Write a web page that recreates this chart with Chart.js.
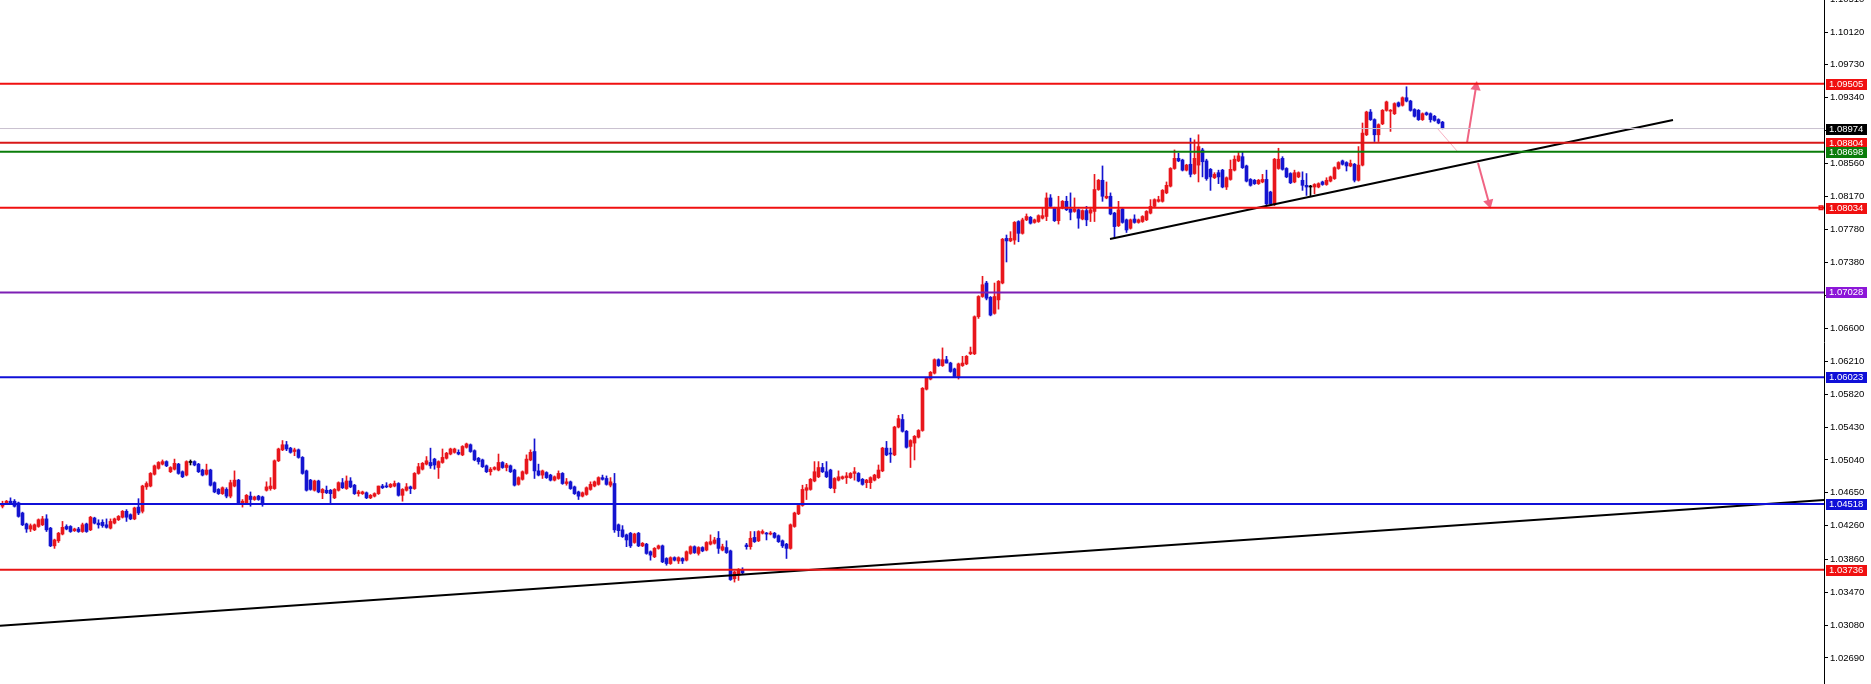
<!DOCTYPE html>
<html>
<head>
<meta charset="utf-8">
<script src="https://cdn.jsdelivr.net/npm/chart.js@4.4.1/dist/chart.umd.min.js"></script>
<style>
html, body { margin: 0; padding: 0; background: #fff; }
#wrap { position: relative; width: 1871px; height: 684px; }
</style>
</head>
<body>
<div id="wrap"><canvas id="chart"></canvas></div>
<script>
// 봉 데이터 (왼쪽부터 361개)
var opens = [
1.0449,1.0452,1.0455,1.0455,1.0453,1.0441,1.0428,1.0422,1.0421,1.0425,
1.0427,1.0434,1.0423,1.0402,1.0408,1.0416,1.0425,1.0425,1.0420,1.0422,
1.0419,1.0428,1.0421,1.0435,1.0429,1.0430,1.0427,1.0423,1.0429,1.0433,
1.0436,1.0443,1.0439,1.0434,1.0448,1.0443,1.0472,1.0473,1.0487,1.0494,
1.0499,1.0502,1.0490,1.0493,1.0499,1.0490,1.0486,1.0501,1.0502,1.0499,
1.0492,1.0487,1.0492,1.0477,1.0469,1.0464,1.0469,1.0461,1.0473,1.0480,
1.0451,1.0453,1.0461,1.0457,1.0461,1.0460,1.0468,1.0470,1.0470,1.0503,
1.0516,1.0522,1.0518,1.0514,1.0516,1.0507,1.0491,1.0480,1.0468,1.0479,
1.0465,1.0468,1.0468,1.0459,1.0468,1.0477,1.0470,1.0479,1.0474,1.0464,
1.0464,1.0465,1.0459,1.0461,1.0464,1.0473,1.0473,1.0472,1.0473,1.0476,
1.0462,1.0468,1.0472,1.0470,1.0488,1.0493,1.0499,1.0501,1.0505,1.0495,
1.0501,1.0506,1.0511,1.0513,1.0513,1.0510,1.0519,1.0522,1.0515,1.0506,
1.0504,1.0497,1.0490,1.0493,1.0492,1.0501,1.0495,1.0497,1.0492,1.0475,
1.0481,1.0488,1.0504,1.0514,1.0491,1.0486,1.0489,1.0486,1.0480,1.0482,
1.0488,1.0476,1.0478,1.0472,1.0466,1.0461,1.0463,1.0469,1.0473,1.0475,
1.0483,1.0482,1.0474,1.0476,1.0427,1.0421,1.0415,1.0417,1.0406,1.0417,
1.0402,1.0404,1.0395,1.0389,1.0399,1.0402,1.0387,1.0381,1.0388,1.0384,
1.0387,1.0385,1.0393,1.0401,1.0393,1.0400,1.0397,1.0404,1.0405,1.0411,
1.0397,1.0400,1.0396,1.0363,1.0367,1.0374,1.0403,1.0401,1.0412,1.0408,
1.0417,1.0417,1.0416,1.0417,1.0414,1.0408,1.0404,1.0399,1.0425,1.0440,
1.0450,1.0468,1.0469,1.0479,1.0484,1.0495,1.0490,1.0492,1.0470,1.0480,
1.0482,1.0483,1.0483,1.0488,1.0488,1.0481,1.0477,1.0477,1.0480,1.0483,
1.0491,1.0518,1.0512,1.0510,1.0543,1.0552,1.0538,1.0520,1.0524,1.0531,
1.0539,1.0588,1.0600,1.0607,1.0623,1.0616,1.0623,1.0619,1.0612,1.0603,
1.0616,1.0618,1.0630,1.0630,1.0674,1.0698,1.0714,1.0697,1.0678,1.0694,
1.0714,1.0767,1.0764,1.0765,1.0787,1.0773,1.0789,1.0792,1.0786,1.0787,
1.0791,1.0793,1.0815,1.0803,1.0788,1.0803,1.0811,1.0802,1.0799,1.0801,
1.0790,1.0800,1.0797,1.0799,1.0825,1.0836,1.0815,1.0817,1.0797,1.0782,
1.0802,1.0789,1.0779,1.0790,1.0786,1.0787,1.0789,1.0797,1.0805,1.0811,
1.0811,1.0821,1.0829,1.0850,1.0862,1.0860,1.0848,1.0855,1.0844,1.0854,
1.0872,1.0859,1.0849,1.0839,1.0845,1.0848,1.0828,1.0837,1.0848,1.0859,
1.0864,1.0853,1.0837,1.0836,1.0832,1.0834,1.0837,1.0822,1.0808,1.0850,
1.0862,1.0850,1.0844,1.0834,1.0840,1.0836,1.0830,1.0828,1.0828,1.0828,
1.0834,1.0831,1.0835,1.0838,1.0850,1.0859,1.0857,1.0853,1.0855,1.0836,
1.0854,1.0890,1.0917,1.0908,1.0890,1.0903,1.0919,1.0918,1.0915,1.0928,
1.0925,1.0934,1.0930,1.0920,1.0919,1.0908,1.0916,1.0915,1.0912,1.0908,
1.0905
];
var highs = [
1.0455,1.0456,1.0459,1.0457,1.0454,1.0442,1.0429,1.0428,1.0428,1.0434,
1.0437,1.0439,1.0424,1.0410,1.0418,1.0431,1.0427,1.0426,1.0423,1.0424,
1.0429,1.0429,1.0437,1.0436,1.0433,1.0433,1.0434,1.0434,1.0435,1.0438,
1.0444,1.0445,1.0440,1.0448,1.0458,1.0474,1.0478,1.0489,1.0498,1.0502,
1.0504,1.0503,1.0496,1.0505,1.0500,1.0491,1.0503,1.0504,1.0503,1.0500,
1.0493,1.0499,1.0493,1.0478,1.0470,1.0472,1.0471,1.0480,1.0491,1.0481,
1.0457,1.0463,1.0466,1.0461,1.0462,1.0461,1.0478,1.0483,1.0504,1.0518,
1.0527,1.0526,1.0519,1.0518,1.0517,1.0508,1.0492,1.0481,1.0480,1.0480,
1.0470,1.0473,1.0469,1.0470,1.0478,1.0482,1.0485,1.0483,1.0475,1.0468,
1.0467,1.0466,1.0463,1.0465,1.0473,1.0475,1.0477,1.0476,1.0479,1.0477,
1.0470,1.0476,1.0473,1.0489,1.0500,1.0501,1.0508,1.0518,1.0506,1.0503,
1.0517,1.0513,1.0518,1.0518,1.0516,1.0521,1.0524,1.0523,1.0516,1.0507,
1.0505,1.0498,1.0495,1.0496,1.0511,1.0502,1.0500,1.0498,1.0493,1.0484,
1.0491,1.0510,1.0516,1.0529,1.0499,1.0492,1.0490,1.0487,1.0485,1.0491,
1.0489,1.0482,1.0479,1.0473,1.0467,1.0466,1.0472,1.0478,1.0479,1.0484,
1.0486,1.0485,1.0483,1.0488,1.0428,1.0426,1.0416,1.0418,1.0417,1.0418,
1.0406,1.0405,1.0396,1.0400,1.0403,1.0403,1.0388,1.0389,1.0389,1.0389,
1.0388,1.0396,1.0402,1.0402,1.0401,1.0401,1.0407,1.0415,1.0412,1.0419,
1.0404,1.0408,1.0397,1.0372,1.0375,1.0376,1.0405,1.0419,1.0419,1.0420,
1.0421,1.0418,1.0419,1.0418,1.0415,1.0409,1.0405,1.0428,1.0442,1.0451,
1.0474,1.0475,1.0482,1.0502,1.0502,1.0500,1.0502,1.0493,1.0483,1.0491,
1.0485,1.0489,1.0489,1.0495,1.0489,1.0482,1.0481,1.0484,1.0487,1.0498,
1.0519,1.0526,1.0518,1.0544,1.0557,1.0558,1.0539,1.0528,1.0533,1.0540,
1.0590,1.0602,1.0609,1.0624,1.0624,1.0637,1.0627,1.0620,1.0613,1.0619,
1.0627,1.0628,1.0638,1.0675,1.0699,1.0722,1.0716,1.0698,1.0714,1.0717,
1.0767,1.0771,1.0775,1.0787,1.0788,1.0791,1.0796,1.0793,1.0790,1.0795,
1.0803,1.0821,1.0819,1.0804,1.0817,1.0812,1.0817,1.0821,1.0815,1.0802,
1.0801,1.0805,1.0804,1.0843,1.0837,1.0853,1.0834,1.0821,1.0798,1.0811,
1.0803,1.0790,1.0790,1.0795,1.0790,1.0794,1.0800,1.0813,1.0814,1.0817,
1.0825,1.0834,1.0851,1.0872,1.0868,1.0861,1.0855,1.0886,1.0884,1.0890,
1.0874,1.0861,1.0850,1.0845,1.0848,1.0849,1.0840,1.0860,1.0865,1.0869,
1.0870,1.0854,1.0838,1.0837,1.0837,1.0843,1.0848,1.0823,1.0862,1.0874,
1.0864,1.0851,1.0845,1.0848,1.0846,1.0846,1.0844,1.0830,1.0832,1.0833,
1.0835,1.0839,1.0841,1.0852,1.0858,1.0860,1.0858,1.0860,1.0856,1.0876,
1.0904,1.0918,1.0920,1.0909,1.0903,1.0920,1.0930,1.0920,1.0928,1.0929,
1.0935,1.0947,1.0931,1.0921,1.0920,1.0916,1.0917,1.0916,1.0913,1.0909,
1.0906
];
var lows = [
1.0447,1.0451,1.0451,1.0448,1.0436,1.0426,1.0418,1.0419,1.0420,1.0424,
1.0426,1.0419,1.0401,1.0399,1.0406,1.0415,1.0421,1.0418,1.0419,1.0418,
1.0418,1.0418,1.0420,1.0428,1.0423,1.0424,1.0423,1.0422,1.0428,1.0432,
1.0435,1.0431,1.0433,1.0433,1.0439,1.0441,1.0469,1.0472,1.0486,1.0493,
1.0498,1.0496,1.0489,1.0492,1.0487,1.0483,1.0485,1.0498,1.0497,1.0489,
1.0485,1.0486,1.0473,1.0465,1.0463,1.0463,1.0459,1.0459,1.0472,1.0452,
1.0448,1.0452,1.0449,1.0456,1.0456,1.0449,1.0467,1.0468,1.0469,1.0502,
1.0515,1.0515,1.0512,1.0509,1.0506,1.0487,1.0467,1.0468,1.0467,1.0465,
1.0458,1.0464,1.0453,1.0458,1.0467,1.0470,1.0469,1.0471,1.0463,1.0461,
1.0463,1.0458,1.0458,1.0460,1.0463,1.0470,1.0471,1.0471,1.0472,1.0461,
1.0455,1.0467,1.0464,1.0469,1.0487,1.0492,1.0498,1.0494,1.0493,1.0482,
1.0500,1.0505,1.0510,1.0512,1.0510,1.0509,1.0518,1.0513,1.0503,1.0499,
1.0495,1.0489,1.0486,1.0492,1.0491,1.0494,1.0491,1.0489,1.0473,1.0474,
1.0480,1.0487,1.0503,1.0482,1.0485,1.0482,1.0482,1.0479,1.0479,1.0481,
1.0475,1.0474,1.0469,1.0463,1.0457,1.0460,1.0462,1.0468,1.0472,1.0474,
1.0480,1.0474,1.0472,1.0418,1.0413,1.0412,1.0401,1.0400,1.0405,1.0401,
1.0401,1.0392,1.0385,1.0388,1.0398,1.0382,1.0379,1.0380,1.0384,1.0381,
1.0381,1.0384,1.0392,1.0393,1.0391,1.0395,1.0396,1.0403,1.0404,1.0393,
1.0396,1.0393,1.0361,1.0359,1.0361,1.0369,1.0398,1.0398,1.0406,1.0407,
1.0416,1.0409,1.0415,1.0411,1.0406,1.0400,1.0387,1.0398,1.0424,1.0439,
1.0449,1.0457,1.0468,1.0478,1.0483,1.0489,1.0483,1.0470,1.0465,1.0479,
1.0481,1.0476,1.0482,1.0480,1.0478,1.0474,1.0471,1.0470,1.0479,1.0482,
1.0490,1.0509,1.0501,1.0509,1.0542,1.0537,1.0518,1.0495,1.0504,1.0530,
1.0538,1.0587,1.0599,1.0606,1.0615,1.0615,1.0619,1.0608,1.0602,1.0600,
1.0615,1.0617,1.0629,1.0629,1.0672,1.0697,1.0694,1.0675,1.0677,1.0683,
1.0713,1.0739,1.0763,1.0760,1.0763,1.0772,1.0788,1.0784,1.0785,1.0786,
1.0790,1.0788,1.0804,1.0787,1.0784,1.0802,1.0800,1.0789,1.0798,1.0779,
1.0789,1.0782,1.0787,1.0787,1.0824,1.0811,1.0814,1.0795,1.0767,1.0781,
1.0785,1.0774,1.0778,1.0785,1.0785,1.0786,1.0788,1.0796,1.0804,1.0810,
1.0810,1.0820,1.0828,1.0849,1.0858,1.0847,1.0847,1.0840,1.0843,1.0834,
1.0840,1.0836,1.0824,1.0838,1.0832,1.0827,1.0825,1.0836,1.0847,1.0858,
1.0850,1.0834,1.0829,1.0831,1.0831,1.0833,1.0806,1.0806,1.0806,1.0849,
1.0848,1.0839,1.0832,1.0833,1.0839,1.0824,1.0818,1.0817,1.0820,1.0827,
1.0830,1.0830,1.0834,1.0837,1.0849,1.0854,1.0847,1.0852,1.0834,1.0835,
1.0853,1.0889,1.0907,1.0882,1.0882,1.0902,1.0918,1.0894,1.0914,1.0923,
1.0924,1.0929,1.0918,1.0911,1.0907,1.0907,1.0913,1.0905,1.0906,1.0903,
1.0897
];
var closes = [
1.0452,1.0455,1.0452,1.0449,1.0437,1.0427,1.0422,1.0426,1.0427,1.0433,
1.0434,1.0421,1.0402,1.0409,1.0417,1.0424,1.0422,1.0419,1.0422,1.0419,
1.0427,1.0419,1.0436,1.0429,1.0427,1.0426,1.0424,1.0431,1.0434,1.0437,
1.0443,1.0436,1.0434,1.0447,1.0441,1.0473,1.0476,1.0488,1.0497,1.0501,
1.0502,1.0497,1.0495,1.0500,1.0488,1.0484,1.0502,1.0501,1.0498,1.0490,
1.0486,1.0492,1.0474,1.0466,1.0464,1.0471,1.0461,1.0477,1.0480,1.0453,
1.0455,1.0462,1.0457,1.0460,1.0457,1.0451,1.0472,1.0473,1.0503,1.0517,
1.0522,1.0517,1.0513,1.0516,1.0507,1.0488,1.0468,1.0469,1.0479,1.0466,
1.0469,1.0465,1.0464,1.0469,1.0477,1.0471,1.0479,1.0472,1.0464,1.0466,
1.0466,1.0459,1.0462,1.0464,1.0473,1.0471,1.0472,1.0475,1.0476,1.0462,
1.0469,1.0472,1.0470,1.0488,1.0496,1.0500,1.0503,1.0497,1.0498,1.0502,
1.0507,1.0512,1.0517,1.0517,1.0511,1.0520,1.0523,1.0514,1.0504,1.0502,
1.0496,1.0490,1.0493,1.0495,1.0501,1.0495,1.0498,1.0490,1.0474,1.0483,
1.0490,1.0505,1.0513,1.0491,1.0486,1.0491,1.0483,1.0480,1.0484,1.0488,
1.0476,1.0478,1.0470,1.0464,1.0461,1.0465,1.0471,1.0475,1.0478,1.0483,
1.0481,1.0475,1.0478,1.0421,1.0420,1.0413,1.0409,1.0402,1.0416,1.0402,
1.0405,1.0393,1.0391,1.0399,1.0402,1.0383,1.0381,1.0388,1.0385,1.0388,
1.0384,1.0395,1.0401,1.0394,1.0400,1.0396,1.0406,1.0407,1.0409,1.0399,
1.0401,1.0394,1.0362,1.0371,1.0374,1.0370,1.0401,1.0411,1.0407,1.0419,
1.0419,1.0416,1.0417,1.0412,1.0407,1.0402,1.0399,1.0427,1.0441,1.0450,
1.0469,1.0471,1.0481,1.0490,1.0495,1.0490,1.0484,1.0471,1.0482,1.0484,
1.0484,1.0485,1.0488,1.0490,1.0479,1.0475,1.0480,1.0483,1.0486,1.0492,
1.0518,1.0510,1.0511,1.0543,1.0553,1.0538,1.0519,1.0527,1.0532,1.0539,
1.0589,1.0601,1.0608,1.0623,1.0616,1.0623,1.0619,1.0609,1.0603,1.0618,
1.0619,1.0627,1.0632,1.0674,1.0698,1.0712,1.0696,1.0676,1.0698,1.0716,
1.0766,1.0764,1.0767,1.0786,1.0773,1.0789,1.0793,1.0785,1.0789,1.0794,
1.0794,1.0815,1.0805,1.0788,1.0803,1.0811,1.0801,1.0798,1.0802,1.0791,
1.0800,1.0789,1.0801,1.0825,1.0836,1.0817,1.0817,1.0796,1.0781,1.0801,
1.0786,1.0777,1.0789,1.0786,1.0789,1.0793,1.0799,1.0805,1.0813,1.0813,
1.0824,1.0830,1.0850,1.0862,1.0859,1.0848,1.0854,1.0843,1.0862,1.0876,
1.0858,1.0838,1.0840,1.0843,1.0840,1.0828,1.0839,1.0849,1.0861,1.0865,
1.0851,1.0835,1.0830,1.0832,1.0836,1.0837,1.0808,1.0808,1.0861,1.0861,
1.0849,1.0840,1.0833,1.0845,1.0845,1.0830,1.0828,1.0828,1.0831,1.0832,
1.0831,1.0836,1.0840,1.0851,1.0857,1.0855,1.0853,1.0856,1.0836,1.0854,
1.0892,1.0917,1.0908,1.0890,1.0902,1.0919,1.0929,1.0919,1.0927,1.0924,
1.0934,1.0930,1.0919,1.0912,1.0908,1.0915,1.0914,1.0908,1.0907,1.0904,
1.0898
];

// 오른쪽 가격축 눈금
var tickValues = [1.10510, 1.10120, 1.09730, 1.09340, 1.08950, 1.08560, 1.08170, 1.07780, 1.07380,
    1.06990, 1.06600, 1.06210, 1.05820, 1.05430, 1.05040, 1.04650, 1.04260, 1.03860, 1.03470,
    1.03080, 1.02690];

// 수평선 (지지/저항)
var levelValues = [1.09505, 1.08974, 1.08804, 1.08698, 1.08034, 1.07028, 1.06023, 1.04518, 1.03736];
var levelLineColors = ['#f01010', '#c9c1cf', '#d81818', '#0a7d0a', '#f01010', '#7d1fb4', '#1010d8', '#1010d8', '#e81414'];
var levelBoxColors = ['#f01010', '#000000', '#f01010', '#0a7d0a', '#f01010', '#8c16d8', '#1010d8', '#1010d8', '#f01010'];
var levelWidths = [2, 1, 2, 2, 2, 2, 2, 2, 2];

// 추세선 (봉 번호, 가격)
var longTrendX = [-0.625, 455.375];
var longTrendY = [1.0307, 1.04565];
var shortTrendX = [276.875, 417.625];
var shortTrendY = [1.07663, 1.09076];

// 분홍 화살표
var guideX = [358.625, 363.625];
var guideY = [1.08981, 1.08708];
var upArrowX = [366.125, 368.375];
var upArrowY = [1.08803, 1.09467];
var downArrowX = [368.875, 371.625];
var downArrowY = [1.08565, 1.08091];

var RED = '#e8161c';
var BLUE = '#1414d0';

function candleColor(i) {
    if (closes[i] > opens[i]) return RED;
    if (closes[i] < opens[i]) return BLUE;
    return '#000000';
}

var wickData = [];
var bodyData = [];
for (var i = 0; i < opens.length; i++) {
    wickData.push({x: i, y: [lows[i], highs[i]]});
    bodyData.push({x: i, y: [opens[i], closes[i]]});
}

function lineSet(xs, ys, color, width) {
    return {
        type: 'line',
        data: xs.map(function (x, k) { return {x: x, y: ys[k]}; }),
        borderColor: color,
        borderWidth: width,
        pointRadius: 0,
        tension: 0,
        order: 0
    };
}

var datasets = [];
levelValues.forEach(function (v, k) {
    datasets.push(lineSet([-0.625, 455.375], [v, v], levelLineColors[k], levelWidths[k]));
});
datasets.push(lineSet(longTrendX, longTrendY, '#000000', 2));
datasets.push(lineSet(shortTrendX, shortTrendY, '#000000', 2));
datasets.push(lineSet(guideX, guideY, 'rgba(240,110,140,0.55)', 1));

// 화살표: 끝점에 삼각형
function arrowSet(xs, ys, rot) {
    var ds = lineSet(xs, ys, '#f06483', 2);
    ds.pointRadius = [0, 4];
    ds.pointStyle = 'triangle';
    ds.pointRotation = rot;
    ds.pointBackgroundColor = '#f06483';
    ds.pointBorderColor = '#f06483';
    return ds;
}
datasets.push(arrowSet(upArrowX, upArrowY, 9));
datasets.push(arrowSet(downArrowX, downArrowY, 165));

// 1.08034 선의 작은 네모 표시
datasets.push({
    type: 'line',
    data: [{x: 454.625, y: 1.08034}],
    showLine: false,
    pointStyle: 'rect',
    pointRadius: 2.5,
    pointBackgroundColor: '#ffffff',
    pointBorderColor: '#f01010',
    pointBorderWidth: 1.5,
    order: 0
});

datasets.push({
    type: 'bar',
    data: wickData,
    backgroundColor: function (ctx) { return candleColor(ctx.dataIndex); },
    barThickness: 1,
    grouped: false,
    order: 2
});
datasets.push({
    type: 'bar',
    data: bodyData,
    backgroundColor: function (ctx) { return candleColor(ctx.dataIndex); },
    barThickness: 3,
    minBarLength: 1,
    grouped: false,
    order: 1
});

// 축 오른쪽 가격 상자
var priceBoxes = {
    id: 'priceBoxes',
    afterDraw: function (chart) {
        var ctx = chart.ctx;
        var y = chart.scales.y;
        ctx.save();
        ctx.font = '9.5px "Liberation Sans", Arial, sans-serif';
        ctx.textBaseline = 'middle';
        ctx.textAlign = 'left';
        levelValues.forEach(function (v, k) {
            var py = Math.round(y.getPixelForValue(v));
            ctx.fillStyle = levelBoxColors[k];
            ctx.fillRect(1826, py - 5, 41, 11);
            ctx.fillStyle = '#ffffff';
            ctx.fillText(v.toFixed(5), 1829, py + 0.5);
        });
        ctx.restore();
    }
};

new Chart(document.getElementById('chart'), {
    type: 'bar',
    data: {datasets: datasets},
    options: {
        responsive: true,
        maintainAspectRatio: false,
        animation: false,
        layout: {padding: 0, autoPadding: false},
        plugins: {legend: {display: false}, tooltip: {enabled: false}},
        scales: {
            x: {
                type: 'linear',
                offset: false,
                min: -0.625,
                max: 455.375,
                display: false
            },
            y: {
                type: 'linear',
                position: 'right',
                min: 1.0238,
                max: 1.1050,
                afterBuildTicks: function (scale) {
                    scale.ticks = tickValues.map(function (v) { return {value: v}; });
                },
                afterFit: function (scale) {
                    scale.width = 47;
                    scale.paddingTop = 0;
                    scale.paddingBottom = 0;
                },
                border: {display: true, color: '#000000', width: 1},
                grid: {drawOnChartArea: false, drawTicks: true, tickLength: 4, color: '#000000'},
                ticks: {
                    autoSkip: false,
                    padding: 2,
                    color: '#000000',
                    font: {family: '"Liberation Sans", Arial, sans-serif', size: 9.5},
                    callback: function (v) { return Number(v).toFixed(5); }
                }
            }
        }
    },
    plugins: [priceBoxes]
});
</script>
</body>
</html>
